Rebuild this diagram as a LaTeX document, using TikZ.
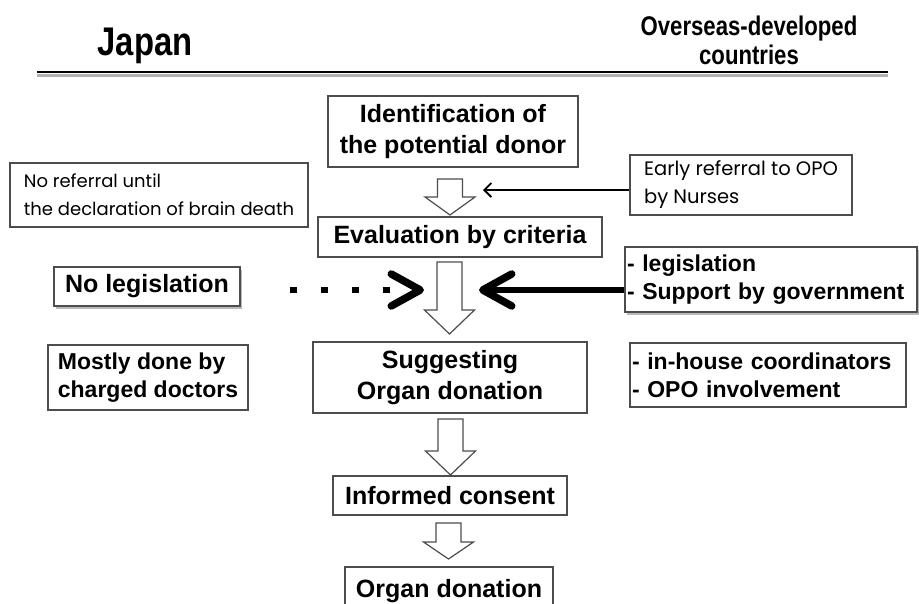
\documentclass[tikz,border=0pt]{standalone}
\usepackage{fontspec}
\setmainfont{Liberation Sans}
\newfontfamily\narrowfont[FakeStretch=0.82]{Liberation Sans}
\newfontfamily\gothicfont{Poppins}
\usetikzlibrary{arrows.meta,shadows}

\definecolor{boxgray}{HTML}{4D4D4D}

\tikzset{
  chev/.tip={Straight Barb[length=29pt,width=32pt,line width=7.5pt,round]},
  thin/.tip={Straight Barb[length=7pt,width=14pt]},
  box/.style={draw=boxgray, line width=1.3pt, fill=white, inner sep=0pt,
    font=\bfseries\fontsize{25}{31}\selectfont, align=center},
  plainbox/.style={box, font=\gothicfont\fontsize{18}{28}\selectfont, align=left},
  listbox/.style={box, font=\bfseries\fontsize{23}{28}\selectfont, align=left},
  shadowed/.style={drop shadow={shadow xshift=2pt, shadow yshift=-2.5pt, opacity=0.45, fill=black!60}},
  heading/.style={font=\narrowfont\bfseries\fontsize{40}{42}\selectfont, align=center},
  hollow/.style={draw=boxgray, line width=1.2pt, fill=white, line join=miter}
}

% hollow down arrow: centre x, top y, head y, tip y
\newcommand{\blockarrow}[4]{%
  \draw[hollow] (#1-12.5,#2) -- (#1+12.5,#2) -- (#1+12.5,#3) -- (#1+25,#3)
    -- (#1,#4) -- (#1-25,#3) -- (#1-12.5,#3) -- cycle;}

\begin{document}
\begin{tikzpicture}[x=1pt,y=-1pt]
  \useasboundingbox (0,0) rectangle (919,603);
  \clip (0,0) rectangle (919,603);

  % headings
  \node[heading] (japan) at (145,46) {Japan};
  \node[heading, font=\narrowfont\bfseries\fontsize{27}{29}\selectfont] (overseas) at (749,40) {Overseas-developed\\countries};
  \draw[line width=3pt, black!30] (37,75.5) -- (888,75.5);
  \draw[line width=2.5pt] (37,72) -- (888,72);

  % middle column
  \node[box, minimum width=250pt, minimum height=71pt] (ident) at (453,131.5) {Identification of\\the potential donor};
  \node[box, minimum width=284pt, minimum height=40pt] (eval) at (460,237) {Evaluation by criteria};
  \node[box, minimum width=274pt, minimum height=71pt] (suggest) at (450,377.5) {Suggesting\\Organ donation};
  \node[box, minimum width=234pt, minimum height=39pt] (consent) at (450,495.5) {Informed consent};
  \node[box, minimum width=208pt, minimum height=48pt] (donation) at (449,591) {Organ donation};

  \blockarrow{450}{179}{197}{215}
  \blockarrow{449.5}{262}{310}{334}
  \blockarrow{450.5}{419}{451}{475}
  \blockarrow{448.5}{523}{542}{559}

  % Japan side
  \node[plainbox, minimum width=298pt, minimum height=64pt] (noref) at (159,195) {No referral until\\the declaration of brain death};
  \node[box, shadowed, minimum width=186pt, minimum height=39pt] (nolegis) at (147,286.5) {No legislation};
  \node[listbox, minimum width=200pt, minimum height=65pt] (mostly) at (148,377.5) {Mostly done by\\charged doctors};

  % overseas side
  \node[plainbox, font=\gothicfont\fontsize{19.5}{28}\selectfont, minimum width=222pt, minimum height=60pt] (early) at (741,185) {Early referral to OPO\\by Nurses};
  \node[listbox, shadowed, minimum width=292pt, minimum height=65pt, text width=288pt] (legis) at (771,279.5) {- legislation\\- Support by government};
  \node[listbox, minimum width=276pt, minimum height=64pt, text width=272pt] (inhouse) at (768,375) {- in-house coordinators\\- OPO involvement};

  % connectors
  \coordinate (earlytip) at (483,190);
  \coordinate (dotstart) at (289.5,290);
  \coordinate (dottip) at (424,290);
  \coordinate (legistip) at (479,290);
  \draw[line width=1.8pt, -{thin}] ([yshift=-5pt]early.west) -- (earlytip);
  \draw[line width=6.5pt, dash pattern=on 7pt off 24pt on 7pt off 24pt on 7pt off 24pt on 7pt off 60pt, -{chev}] (dotstart) -- (dottip);
  \draw[line width=6pt, -{chev}] ([yshift=-10.5pt]legis.west) -- (legistip);
\end{tikzpicture}
\end{document}
